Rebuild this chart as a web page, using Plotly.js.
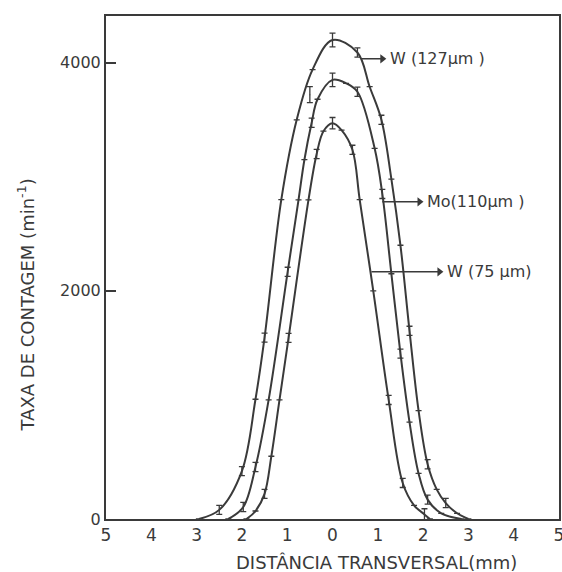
<!DOCTYPE html>
<html>
<head>
<meta charset="utf-8">
<script src="https://cdn.plot.ly/plotly-3.0.1.min.js"></script>
<style>html,body{margin:0;padding:0;background:#fff;}#chart{width:562px;height:572px;}</style>
</head>
<body>
<div id="chart"></div>
<script>
// Transverse distance (mm) and count rate (min^-1)
const w127X = [-2.95, -2.5, -2.0, -1.7, -1.5, -1.13, -0.79, -0.44, 0, 0.55, 0.82, 1.08, 1.3, 1.5, 1.7, 1.9, 2.1, 2.3, 2.5, 2.75, 3.0];
const w127Y = [0, 80, 420, 1050, 1590, 2800, 3500, 3940, 4200, 4090, 3790, 3500, 2980, 2400, 1650, 950, 480, 260, 140, 50, 0];
const w127E = [0, 40, 40, 0, 40, 0, 0, 0, 60, 40, 0, 40, 0, 0, 40, 0, 40, 0, 40, 0, 0];

const moX = [-2.3, -1.97, -1.7, -1.41, -0.99, -0.75, -0.62, -0.46, -0.33, 0, 0.3, 0.55, 0.93, 1.1, 1.3, 1.5, 1.7, 1.9, 2.1, 2.4, 2.85];
const moY = [0, 105, 456, 1044, 2167, 2798, 3150, 3474, 3680, 3850, 3820, 3746, 3250, 2850, 2150, 1450, 850, 400, 170, 50, 0];
const moE = [0, 40, 40, 0, 40, 0, 0, 40, 0, 60, 0, 40, 0, 40, 0, 40, 0, 0, 40, 0, 0];

const w75X = [-1.9, -1.7, -1.5, -1.35, -1.17, -0.97, -0.53, -0.35, -0.2, 0, 0.2, 0.44, 0.6, 0.9, 1.24, 1.55, 1.8, 2.03, 2.15];
const w75Y = [0, 70, 220, 550, 1044, 1588, 2798, 3200, 3400, 3470, 3410, 3237, 2800, 2000, 1044, 316, 120, 40, 0];
const w75E = [0, 0, 40, 0, 0, 40, 0, 40, 0, 50, 0, 40, 0, 0, 40, 40, 0, 50, 0];

// isolated measured point with error bar
const outlierX = [-0.5];
const outlierY = [3720];
const outlierE = [70];

const xTickVals = [-5, -4, -3, -2, -1, 0, 1, 2, 3, 4, 5];
const xTickText = ['5', '4', '3', '2', '1', '0', '1', '2', '3', '4', '5'];
const yTickVals = [0, 2000, 4000];
const yTickText = ['0', '2000', '4000'];

// curve labels: arrow start on curve (x), arrow end (x), level (y), text
const labelText = ['W (127µm )', 'Mo(110µm )', 'W (75 µm)'];
const arrowFromX = [0.64, 1.1, 0.86];
const arrowToX = [1.1, 1.92, 2.36];
const arrowY = [4035, 2781, 2167];

const INK = '#3a3a3a';

function curve(x, y, e) {
  return {
    x: x, y: y, type: 'scatter', mode: 'lines',
    line: {color: INK, width: 2, shape: 'spline', smoothing: 1},
    error_y: {type: 'data', array: e, symmetric: true, color: INK, thickness: 1.3, width: 3},
    hoverinfo: 'skip', showlegend: false
  };
}

const data = [
  curve(w127X, w127Y, w127E),
  curve(moX, moY, moE),
  curve(w75X, w75Y, w75E),
  {x: outlierX, y: outlierY, type: 'scatter', mode: 'markers',
   marker: {size: 1, color: INK},
   error_y: {type: 'data', array: outlierE, color: INK, thickness: 1.3, width: 3},
   showlegend: false, hoverinfo: 'skip'},
  {x: arrowToX, y: arrowY, type: 'scatter', mode: 'markers',
   marker: {symbol: 'triangle-right', size: 8, color: INK},
   showlegend: false, hoverinfo: 'skip', cliponaxis: false}
];

const font = {family: 'DejaVu Sans, Liberation Sans, sans-serif', color: INK};

const shapes = arrowFromX.map((x0, i) => ({
  type: 'line', xref: 'x', yref: 'y', x0: x0, x1: arrowToX[i], y0: arrowY[i], y1: arrowY[i],
  line: {color: INK, width: 1.5}
}));

const labelAnns = labelText.map((t, i) => ({
  x: arrowToX[i] + 0.12, y: arrowY[i], xref: 'x', yref: 'y', text: t, showarrow: false,
  xanchor: 'left', yanchor: 'middle', font: Object.assign({size: 16}, font)
}));

const layout = {
  width: 562, height: 572,
  margin: {l: 106, r: 3, t: 16, b: 53},
  paper_bgcolor: '#fff', plot_bgcolor: '#fff',
  font: font,
  shapes: shapes,
  xaxis: {range: [-5, 5], tickvals: xTickVals, ticktext: xTickText, ticks: '', showgrid: false, zeroline: false,
          showline: true, mirror: true, linecolor: INK, linewidth: 2, tickfont: {size: 17}, ticklabeloverflow: 'allow'},
  yaxis: {range: [0, 4410], tickvals: yTickVals, ticktext: yTickText, ticks: 'inside', ticklen: 10, tickwidth: 2, tickcolor: INK,
          showgrid: false, zeroline: false, showline: true, mirror: true, linecolor: INK, linewidth: 2, tickfont: {size: 16}},
  annotations: labelAnns.concat([
    {xref: 'paper', yref: 'paper', x: -0.176, y: 0.425, text: 'TAXA DE CONTAGEM (min<sup>-1</sup>)', textangle: -90,
     showarrow: false, xanchor: 'center', yanchor: 'middle', font: Object.assign({size: 18}, font)},
    {xref: 'paper', yref: 'paper', x: 0.597, y: -0.086, text: 'DISTÂNCIA TRANSVERSAL(mm)',
     showarrow: false, xanchor: 'center', yanchor: 'middle', font: Object.assign({size: 18}, font)}
  ])
};

Plotly.newPlot('chart', data, layout, {staticPlot: true, displayModeBar: false});
</script>
</body>
</html>
